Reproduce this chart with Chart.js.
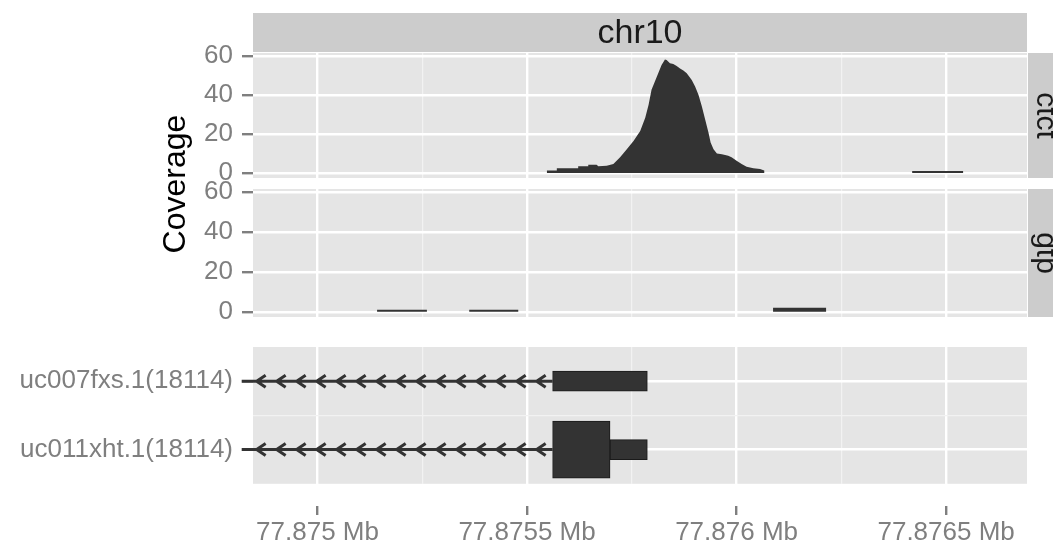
<!DOCTYPE html>
<html>
<head>
<meta charset="utf-8">
<script src="https://cdn.jsdelivr.net/npm/chart.js@4.4.0/dist/chart.umd.min.js"></script>
<style>
html, body { margin: 0; padding: 0; background: #fff; }
#wrap { position: relative; width: 1053px; height: 543px; overflow: hidden; }
#wrap canvas { position: absolute; left: 0; top: 0; }
</style>
</head>
<body>
<div id="wrap">
  <canvas id="ctct" width="1053" height="543"></canvas>
  <canvas id="gtp" width="1053" height="543"></canvas>
  <canvas id="genes" width="1053" height="543"></canvas>
</div>
<script>
// genomic window on chr10
var xMin = 77874846, xMax = 77876693;
var xTicks = [77875000, 77875500, 77876000, 77876500];
var xTickLabels = ['77.875 Mb', '77.8755 Mb', '77.876 Mb', '77.8765 Mb'];
var xMinor = [77875250, 77875750, 77876250];

var covTicks = [0, 20, 40, 60];
var covMinor = [10, 30, 50];

// coverage, sample ctct
var ctctPos = [77875547, 77875547, 77875571, 77875571, 77875622, 77875622, 77875646, 77875646,
  77875666, 77875670, 77875690, 77875706, 77875722, 77875738, 77875754, 77875770, 77875782,
  77875790, 77875797, 77875805, 77875813, 77875821, 77875829, 77875833, 77875841, 77875849,
  77875857, 77875865, 77875873, 77875881, 77875893, 77875901, 77875909, 77875917, 77875925,
  77875933, 77875938, 77875945, 77875953, 77875965, 77875980, 77875988, 77876000, 77876012,
  77876024, 77876040, 77876056, 77876066, 77876066,
  77876419, 77876419, 77876541, 77876541];
var ctctCov = [0, 1.2, 1.2, 2.4, 2.4, 3.4, 3.4, 4.2,
  4.2, 3.4, 3.7, 4.6, 8.0, 12.2, 16.4, 21.5, 28.3,
  35.0, 42.6, 46.9, 51.1, 55.3, 58.2, 57.9, 56.2, 55.9,
  54.8, 53.6, 52.5, 51.1, 47.7, 44.3, 40.1, 34.2, 27.4,
  20.6, 15.6, 12.2, 10.0, 9.6, 8.8, 8.0, 6.3, 4.6,
  3.2, 2.4, 2.0, 1.2, 0,
  0, 1, 1, 0];

// coverage, sample gtp
var gtpPos = [77875142, 77875142, 77875261, 77875261, 77875362, 77875362, 77875479, 77875479,
  77876087, 77876087, 77876214, 77876214];
var gtpCov = [0, 1, 1, 0, 0, 1, 1, 0, 0, 2, 2, 0];

// transcripts (minus strand)
var geneNames = ['uc007fxs.1(18114)', 'uc011xht.1(18114)'];
var intronStart = [77874819, 77874819];
var intronEnd = [77875561, 77875561];
var utrStart = [77875561, 77875698];
var utrEnd = [77875787, 77875787];
var cdsStart = [null, 77875561];
var cdsEnd = [null, 77875698];

var FONT = '"Liberation Sans", Arial, Helvetica, sans-serif';
Chart.defaults.font.family = FONT;
Chart.defaults.font.size = 26;
Chart.defaults.color = '#7F7F7F';
Chart.defaults.animation = false;

var byNum = function(a, b) { return a - b; };

function isMajor(c, majors) {
  return !!c.tick && majors.indexOf(c.tick.value) >= 0;
}

function gridOpts(majors, tickLen) {
  return {
    offset: false,
    color: function(c) { return isMajor(c, majors) ? '#FFFFFF' : '#F2F2F2'; },
    lineWidth: function(c) { return isMajor(c, majors) ? 2.4 : 1.2; },
    drawTicks: tickLen > 0,
    tickLength: tickLen,
    tickWidth: 2.4,
    tickColor: function(c) { return isMajor(c, majors) ? '#7F7F7F' : 'rgba(0,0,0,0)'; }
  };
}

function xScale(showLabels) {
  return {
    type: 'linear',
    min: xMin,
    max: xMax,
    offset: false,
    afterBuildTicks: function(s) {
      s.ticks = xTicks.concat(xMinor).sort(byNum).map(function(v) { return { value: v }; });
    },
    afterFit: function(s) { s.height = showLabels ? 38 : 0; },
    border: { display: false },
    grid: gridOpts(xTicks, showLabels ? 10 : 0),
    ticks: {
      display: showLabels,
      autoSkip: false,
      maxRotation: 0,
      padding: 2,
      callback: function(v) {
        var i = xTicks.indexOf(v);
        return i < 0 ? '' : xTickLabels[i];
      }
    }
  };
}

function covScale() {
  return {
    type: 'linear',
    min: -2.6,
    max: 61.5,
    afterBuildTicks: function(s) {
      s.ticks = covTicks.concat(covMinor).sort(byNum).map(function(v) { return { value: v }; });
    },
    afterFit: function(s) { s.width = 253; },
    border: { display: false },
    grid: gridOpts(covTicks, 11),
    ticks: {
      padding: 9,
      callback: function(v) { return covTicks.indexOf(v) < 0 ? '' : String(v); }
    }
  };
}

// grey panel background, facet strips and the shared y title
var panelPlugin = {
  id: 'panel',
  beforeDraw: function(chart, args, opts) {
    var a = chart.chartArea, ctx = chart.ctx;
    var top = a.top, bottom = a.bottom;
    if (opts.yFrom != null) {
      top = chart.scales.y.getPixelForValue(opts.yFrom);
      bottom = chart.scales.y.getPixelForValue(opts.yTo);
    }
    ctx.save();
    ctx.fillStyle = '#E5E5E5';
    ctx.fillRect(a.left, top, a.right - a.left, bottom - top);
    ctx.fillStyle = '#CCCCCC';
    if (opts.topStrip) ctx.fillRect(a.left, a.top - 40, a.right - a.left, 39);
    if (opts.rightStrip) ctx.fillRect(a.right + 1, a.top, 45, a.bottom - a.top);
    ctx.fillStyle = '#1A1A1A';
    ctx.textAlign = 'center';
    ctx.textBaseline = 'middle';
    if (opts.topStrip) {
      ctx.font = '34px ' + FONT;
      ctx.fillText(opts.topStrip, (a.left + a.right) / 2, a.top - 19);
    }
    if (opts.rightStrip) {
      ctx.save();
      ctx.font = '30px ' + FONT;
      ctx.translate(a.right + 18, (a.top + a.bottom) / 2);
      ctx.rotate(Math.PI / 2);
      ctx.fillText(opts.rightStrip, 0, 0);
      ctx.restore();
    }
    if (opts.title) {
      ctx.save();
      ctx.fillStyle = '#000000';
      ctx.font = '32px ' + FONT;
      ctx.translate(176, 184);
      ctx.rotate(-Math.PI / 2);
      ctx.fillText(opts.title, 0, 0);
      ctx.restore();
    }
    ctx.restore();
  }
};

function coverageChart(id, pos, cov, padTop, padBottom, strips) {
  return new Chart(document.getElementById(id), {
    type: 'line',
    data: {
      datasets: [{
        data: pos.map(function(p, i) { return { x: p, y: cov[i] }; }),
        fill: 'origin',
        backgroundColor: '#333333',
        borderColor: 'rgba(0,0,0,0)',
        borderWidth: 1,
        pointRadius: 0,
        tension: 0
      }]
    },
    options: {
      responsive: false,
      layout: { autoPadding: false, padding: { top: padTop, bottom: padBottom, left: 0, right: 26 } },
      scales: { x: xScale(false), y: covScale() },
      plugins: { legend: { display: false }, tooltip: { enabled: false }, panel: strips }
    },
    plugins: [panelPlugin]
  });
}

coverageChart('ctct', ctctPos, ctctCov, 53, 365, { topStrip: 'chr10', rightStrip: 'ctct', title: 'Coverage' });
coverageChart('gtp', gtpPos, gtpCov, 189, 226, { rightStrip: 'gtp' });

// gene model track
var utrData = [], cdsData = [];
for (var i = 0; i < geneNames.length; i++) {
  utrData.push({ x: [utrStart[i], utrEnd[i]], y: i + 1 });
  if (cdsStart[i] != null) cdsData.push({ x: [cdsStart[i], cdsEnd[i]], y: i + 1 });
}

var intronPlugin = {
  id: 'introns',
  beforeDatasetsDraw: function(chart) {
    var a = chart.chartArea, ctx = chart.ctx;
    var xs = chart.scales.x, ys = chart.scales.y;
    var gapTop = ys.getPixelForValue(2.5);
    ctx.save();
    ctx.clearRect(a.left - 2, gapTop, a.right - a.left + 4, a.bottom - gapTop + 1);
    ctx.strokeStyle = '#333333';
    ctx.lineWidth = 3;
    ctx.lineJoin = 'miter';
    for (var i = 0; i < geneNames.length; i++) {
      var y = ys.getPixelForValue(i + 1);
      var x0 = xs.getPixelForValue(intronStart[i]);
      var x1 = xs.getPixelForValue(intronEnd[i]);
      ctx.beginPath();
      ctx.moveTo(x0, y);
      ctx.lineTo(x1, y);
      for (var tip = x1 - 16; tip > a.left + 2; tip -= 20) {
        ctx.moveTo(tip + 9, y - 6);
        ctx.lineTo(tip, y);
        ctx.lineTo(tip + 9, y + 6);
      }
      ctx.stroke();
    }
    ctx.restore();
  }
};

new Chart(document.getElementById('genes'), {
  type: 'bar',
  data: {
    datasets: [
      { data: utrData, barThickness: 20, grouped: false, backgroundColor: '#333333',
        borderColor: '#1A1A1A', borderWidth: 1, borderSkipped: false },
      { data: cdsData, barThickness: 57, grouped: false, backgroundColor: '#333333',
        borderColor: '#1A1A1A', borderWidth: 1, borderSkipped: false }
    ]
  },
  options: {
    responsive: false,
    indexAxis: 'y',
    layout: { autoPadding: false, padding: { top: 347, bottom: 0, left: 0, right: 26 } },
    scales: {
      x: xScale(true),
      y: {
        type: 'linear',
        reverse: true,
        offset: false,
        min: 0.5,
        max: 2.81,
        afterBuildTicks: function(s) {
          s.ticks = [1, 1.5, 2].map(function(v) { return { value: v }; });
        },
        afterFit: function(s) { s.width = 253; },
        border: { display: false },
        grid: gridOpts([1, 2], 11),
        ticks: {
          padding: 9,
          callback: function(v) { return v % 1 === 0 ? geneNames[v - 1] : ''; }
        }
      }
    },
    plugins: { legend: { display: false }, tooltip: { enabled: false }, panel: { yFrom: 0.5, yTo: 2.5 } }
  },
  plugins: [panelPlugin, intronPlugin]
});
</script>
</body>
</html>
